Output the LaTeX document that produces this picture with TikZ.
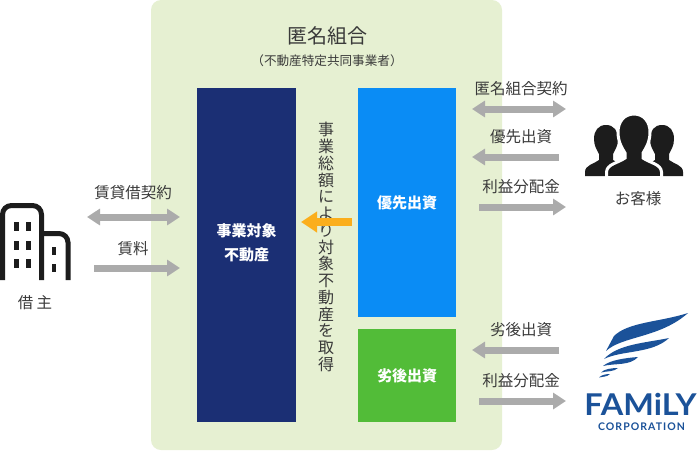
\documentclass[tikz,border=0pt]{standalone}
\usepackage{fontspec}
\setmainfont{Noto Sans CJK JP}
\newfontfamily\logofont{Lato}
\newfontfamily\logofontb[LetterSpace=10]{Lato}
\usetikzlibrary{arrows.meta}
\definecolor{panel}{HTML}{E6F0D2}
\definecolor{navy}{HTML}{1B2F74}
\definecolor{bluebox}{HTML}{0A8CF5}
\definecolor{greenbox}{HTML}{52BC38}
\definecolor{arrowgray}{HTML}{ABABAB}
\definecolor{orangearrow}{HTML}{FBAE1C}
\definecolor{txt}{HTML}{3A3A3A}
\definecolor{logoblue}{HTML}{1B5299}
\definecolor{icon}{HTML}{1C1C1C}
\tikzset{
  x=1pt,y=-1pt,
  boxlabel/.style={font=\bfseries\fontsize{15}{24}\selectfont,text=white,align=center,inner sep=0},
  lbl/.style={font=\fontsize{15.5}{16}\selectfont,text=txt,inner sep=0},
  onearrow/.style={draw=arrowgray,line width=7pt,-{Triangle[width=16pt,length=13pt]}},
  twoarrow/.style={draw=arrowgray,line width=7pt,{Triangle[width=16pt,length=13pt]}-{Triangle[width=16pt,length=13pt]}},
}
\begin{document}
\begin{tikzpicture}
\useasboundingbox (0,0) rectangle (700,450);
\fill[white] (0,0) rectangle (700,450);
\fill[panel,rounded corners=10pt] (151,0) rectangle (502,450);
% boxes
\fill[navy] (197,88) rectangle (296,422);
\fill[bluebox] (358,88) rectangle (456,317);
\fill[greenbox] (358,329) rectangle (456,422);
\node[boxlabel] (target) at (246.5,242.5) {事業対象\\不動産};
\node[boxlabel] (senior) at (407,203) {優先出資};
\node[boxlabel] (junior) at (407,376) {劣後出資};
\coordinate (targetE) at (301,222);
\coordinate (seniorW) at (352,222);
% titles
\node[font=\fontsize{20}{22}\selectfont,text=txt,inner sep=0] (title) at (327,36) {匿名組合};
\node[font=\fontsize{12.6}{14}\selectfont,text=txt,inner sep=0] (subtitle) at (327,60.5) {（不動産特定共同事業者）};
\node[font=\fontsize{16}{16.75}\selectfont,text=txt,align=center,inner sep=0] (vert) at (326,247) {事\\業\\総\\額\\に\\よ\\り\\対\\象\\不\\動\\産\\を\\取\\得};
\draw[draw=orangearrow,line width=8pt,-{Triangle[width=20pt,length=16pt]}] (seniorW) -- (targetE);
% left
\coordinate (a1) at (87,217); \coordinate (a2) at (180,217);
\coordinate (b1) at (94,268); \coordinate (b2) at (180,268);
\draw[twoarrow] (a1) -- (a2);
\draw[onearrow] (b1) -- (b2);
\node[lbl] (l1) at (133,193) {賃貸借契約};
\node[lbl] (l2) at (133,249) {賃料};
\node[lbl] (l3) at (35,303) {借 主};
% right
\coordinate (c1) at (472,109); \coordinate (c2) at (566,109);
\coordinate (d1) at (559,157); \coordinate (d2) at (472,157);
\coordinate (e1) at (479,207); \coordinate (e2) at (566,207);
\coordinate (f1) at (559,350); \coordinate (f2) at (472,350);
\coordinate (g1) at (479,401); \coordinate (g2) at (566,401);
\draw[twoarrow] (c1) -- (c2);
\draw[onearrow] (d1) -- (d2);
\draw[onearrow] (e1) -- (e2);
\draw[onearrow] (f1) -- (f2);
\draw[onearrow] (g1) -- (g2);
\node[lbl] (r1) at (521,89) {匿名組合契約};
\node[lbl] (r2) at (521,137) {優先出資};
\node[lbl] (r3) at (521,187) {利益分配金};
\node[lbl] (r4) at (521,330) {劣後出資};
\node[lbl] (r5) at (521,381) {利益分配金};
\node[lbl] (r6) at (638,199) {お客様};
% building icon
\begin{scope}
\draw[draw=icon,line width=5pt,rounded corners=9pt] (2.5,280) -- (2.5,205.5) -- (41.5,205.5) -- (41.5,280);
\draw[draw=icon,line width=5pt,rounded corners=9pt] (41.5,233.5) -- (68,233.5) -- (68,280);
\end{scope}
\foreach \xx in {13.5,26}{\foreach \yy in {222,241,259}{\fill[icon] (\xx,\yy) rectangle ++(5,8.5);}}
\foreach \yy in {246.5,264}{\fill[icon] (51.5,\yy) rectangle ++(4.5,8);}
% people icon
\foreach \cx in {606,662}{
\begin{scope}[shift={(\cx,0)}]
\fill[icon] (0,125) .. controls (-8,125) and (-12,131) .. (-12,139) .. controls (-12,146) and (-9,150) .. (-7,154) -- (-7,160) .. controls (-12,164) and (-21,165) .. (-21,172) -- (-21,176) -- (21,176) -- (21,172) .. controls (21,165) and (12,164) .. (7,160) -- (7,154) .. controls (9,150) and (12,146) .. (12,139) .. controls (12,131) and (8,125) .. (0,125) -- cycle;
\end{scope}}
\fill[icon,draw=white,line width=3pt] (634,114) .. controls (624,114) and (618,122) .. (618,132) .. controls (618,142) and (622,148) .. (625,153) -- (625,158) .. controls (618,163) and (607,164) .. (606.5,172) -- (606.5,177.5) -- (661.5,177.5) -- (661.5,172) .. controls (661,164) and (650,163) .. (643,158) -- (643,153) .. controls (646,148) and (650,142) .. (650,132) .. controls (650,122) and (644,114) .. (634,114) -- cycle;
\fill[white] (600,176.5) rectangle (670,182);
% logo wing
\fill[logoblue] (688,313) .. controls (660,322) and (628,322) .. (614,336) -- (606,351) .. controls (622,336) and (660,338) .. (688,313) -- cycle;
\fill[logoblue] (669,338) .. controls (645,343) and (618,344) .. (604,359) .. controls (622,350) and (652,354) .. (669,338) -- cycle;
\fill[logoblue] (638,357) .. controls (625,358) and (610,360) .. (603,366) .. controls (615,363) and (630,366) .. (638,357) -- cycle;
\fill[logoblue] (618,368) .. controls (612,368) and (604,369) .. (601,372.5) .. controls (606,371) and (614,372) .. (618,368) -- cycle;
\fill[logoblue] (610,374) .. controls (606,374) and (601,375) .. (599,377.5) .. controls (603,376.5) and (607,377) .. (610,374) -- cycle;
\node[font=\logofont\bfseries\fontsize{30}{31}\selectfont,text=logoblue,inner sep=0,xscale=1.08] (logo) at (640.5,404) {FAMiLY};
\node[font=\logofontb\bfseries\fontsize{10.5}{11}\selectfont,text=logoblue,inner sep=0] (corp) at (641.5,427) {CORPORATION};
\end{tikzpicture}
\end{document}
